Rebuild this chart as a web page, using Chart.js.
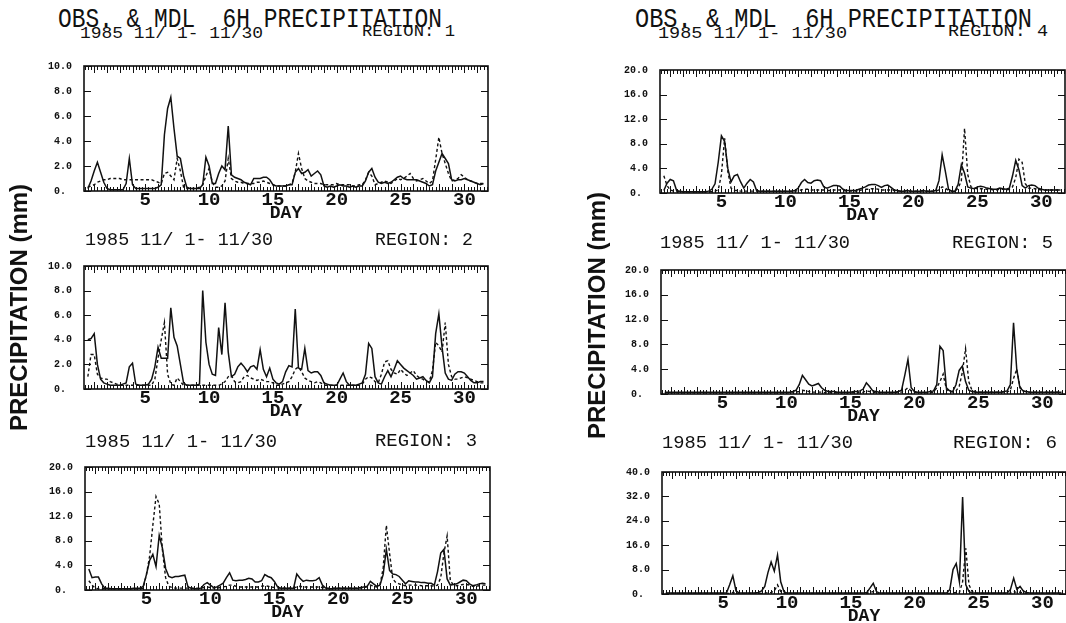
<!DOCTYPE html>
<html>
<head>
<meta charset="utf-8">
<script src="https://cdn.jsdelivr.net/npm/chart.js@4.4.0/dist/chart.umd.min.js"></script>
<style>
  html, body { margin: 0; padding: 0; background: #fff; }
  #page { position: relative; width: 1066px; height: 623px; overflow: hidden; background: #fff; }
  #page canvas { position: absolute; }
  .txt { position: absolute; white-space: pre; color: #111; }
</style>
</head>
<body>
<div id="page"></div>
<script>
// ---- 6-hourly precipitation (mm), 1985 Nov 1 - Nov 30 ----
// time axis: first value at day 0.5, one value every 6 hours
const firstDay = 0.5;
const stepDay = 0.25;
const dayTicks = [5, 10, 15, 20, 25, 30];
const ticksTen = [0, 2, 4, 6, 8, 10];
const ticksTwenty = [0, 4, 8, 12, 16, 20];
const ticksForty = [0, 8, 16, 24, 32, 40];

// Region 1
const obsR1 = [
  0.2, 0.8, 1.6, 2.3, 1.5, 0.7, 0.2, 0.1, 0.1, 0.1,
  0.1, 0.1, 0.6, 2.6, 0.5, 0.2, 0.2, 0.2, 0.2, 0.2,
  0.2, 0.2, 0.3, 0.5, 4.5, 6.6, 7.5, 5.0, 2.8, 2.6,
  1.2, 0.3, 0.2, 0.2, 0.2, 0.2, 0.5, 2.7, 2.0, 0.6,
  0.6, 1.4, 2.0, 1.7, 5.2, 1.3, 1.1, 1.0, 0.9, 0.7,
  0.6, 0.5, 1.0, 1.0, 1.0, 1.1, 1.1, 0.9, 0.5, 0.4,
  0.4, 0.4, 0.4, 0.5, 0.5, 1.5, 1.8, 1.4, 1.5, 1.7,
  1.2, 1.4, 1.6, 1.3, 0.4, 0.3, 0.4, 0.3, 0.4, 0.5,
  0.4, 0.4, 0.3, 0.4, 0.3, 0.4, 0.4, 0.8, 1.5, 1.8,
  1.1, 0.7, 0.6, 0.7, 0.6, 0.7, 0.9, 1.1, 1.2, 1.0,
  0.9, 0.9, 0.9, 0.9, 0.8, 0.7, 0.6, 0.4, 0.5, 1.6,
  2.3, 3.0, 2.6, 2.2, 0.9, 0.8, 0.9, 0.9, 1.0, 0.9,
  0.8, 0.7, 0.6, 0.5, 0.6
];
const mdlR1 = [
  0.3, 0.4, 0.5, 0.7, 0.8, 0.9, 0.9, 1.0, 1.0, 1.0,
  1.0, 0.9, 0.9, 0.9, 0.9, 0.9, 0.9, 0.9, 0.9, 0.9,
  0.9, 0.8, 0.7, 0.6, 1.4, 1.5, 1.2, 0.9, 2.6, 1.6,
  0.3, 0.2, 0.2, 0.2, 0.2, 0.3, 0.5, 1.2, 1.8, 0.7,
  0.3, 0.3, 0.4, 0.8, 2.6, 1.0, 0.8, 0.7, 0.7, 0.6,
  0.6, 0.6, 0.6, 0.7, 0.7, 0.8, 0.7, 0.6, 0.5, 0.4,
  0.4, 0.4, 0.4, 0.5, 0.6, 1.5, 3.0, 1.8, 1.0, 0.8,
  0.7, 0.6, 0.6, 0.6, 0.5, 0.5, 0.5, 0.5, 0.6, 0.5,
  0.5, 0.5, 0.5, 0.4, 0.4, 0.5, 0.5, 0.9, 1.5, 1.2,
  0.5, 0.6, 0.7, 0.8, 0.7, 0.6, 0.8, 1.0, 0.9, 1.0,
  1.2, 1.4, 1.0, 0.8, 0.9, 1.0, 0.8, 0.6, 0.8, 2.5,
  4.3, 3.0, 2.2, 1.4, 0.8, 0.9, 1.0, 1.3, 1.1, 0.9,
  0.8, 0.7, 0.6, 0.6, 0.6
];

// Region 2
const obsR2 = [
  4.0, 4.1, 4.5, 2.0, 0.8, 0.5, 0.4, 0.3, 0.3, 0.3,
  0.3, 0.4, 0.5, 1.8, 2.1, 0.4, 0.3, 0.3, 0.3, 0.4,
  0.8, 1.8, 3.4, 2.5, 2.5, 2.5, 6.6, 4.2, 3.5, 2.0,
  0.5, 0.3, 0.3, 0.3, 0.3, 0.4, 8.0, 3.8, 2.0, 1.2,
  1.1, 5.0, 2.8, 7.0, 3.0, 1.0, 1.2, 1.8, 2.1, 1.8,
  1.4, 1.8, 1.9, 1.6, 3.2, 1.6, 1.0, 1.7, 0.8, 0.5,
  0.4, 0.6, 1.4, 1.9, 1.8, 6.5, 1.7, 1.6, 3.3, 1.5,
  1.3, 1.4, 1.4, 1.1, 0.5, 0.4, 0.3, 0.3, 0.3, 0.8,
  1.3, 0.6, 0.3, 0.3, 0.3, 0.4, 0.5, 1.2, 3.7, 3.3,
  1.0, 0.5, 0.4, 1.0, 1.5, 1.0, 1.6, 2.3, 2.0, 1.7,
  1.5, 1.3, 1.1, 0.8, 0.9, 1.0, 0.7, 0.5, 1.0, 4.5,
  6.1, 3.4, 1.3, 0.8, 0.7, 1.2, 1.4, 1.4, 1.3, 1.0,
  0.7, 0.5, 0.5, 0.6, 0.6
];
const mdlR2 = [
  1.0, 2.8, 2.8, 1.2, 0.9, 0.8, 0.8, 0.6, 0.5, 0.4,
  0.3, 0.3, 0.3, 0.3, 0.3, 0.3, 0.3, 0.3, 0.3, 0.3,
  0.3, 0.8, 2.5, 4.0, 5.4, 1.2, 0.4, 0.3, 0.9, 0.6,
  0.3, 0.3, 0.3, 0.3, 0.3, 0.3, 0.3, 0.3, 0.3, 0.3,
  0.3, 0.3, 0.4, 0.6, 1.0, 1.1, 0.6, 0.5, 0.6, 1.0,
  1.1, 0.9, 0.8, 0.7, 0.8, 0.7, 0.6, 0.6, 0.5, 0.3,
  0.3, 0.4, 0.5, 0.6, 1.0, 1.6, 1.8, 1.4, 0.9, 0.7,
  0.6, 0.5, 0.6, 0.5, 0.3, 0.3, 0.3, 0.3, 0.3, 0.3,
  0.3, 0.3, 0.3, 0.3, 0.3, 0.3, 0.4, 0.8, 1.0, 0.9,
  0.6, 0.5, 1.2, 2.2, 2.3, 1.6, 1.3, 1.2, 1.6, 1.3,
  1.1, 1.3, 1.5, 1.1, 0.9, 0.8, 0.6, 0.6, 1.5, 3.8,
  3.5, 3.0, 5.4, 2.0, 1.0, 0.8, 0.8, 0.9, 1.0, 0.9,
  0.8, 0.7, 0.6, 0.5, 0.5
];

// Region 3
const obsR3 = [
  3.4, 2.0, 2.1, 2.1, 1.0, 0.3, 0.3, 0.2, 0.2, 0.2,
  0.2, 0.2, 0.2, 0.2, 0.3, 0.3, 0.3, 0.6, 2.5, 4.8,
  5.8, 3.8, 8.9, 6.8, 3.5, 2.2, 2.0, 2.2, 2.2, 2.3,
  2.4, 0.5, 0.3, 0.2, 0.2, 0.3, 0.9, 1.2, 0.8, 0.4,
  0.5, 0.8, 1.1, 2.0, 2.8, 1.6, 1.5, 1.6, 1.6, 1.7,
  1.9, 1.8, 1.3, 1.3, 1.5, 2.5, 2.2, 2.0, 1.4, 0.5,
  0.3, 0.3, 0.3, 0.3, 0.3, 2.6, 1.9, 1.4, 1.6, 1.5,
  1.5, 1.6, 2.0, 0.8, 0.3, 0.2, 0.2, 0.3, 0.3, 0.3,
  0.3, 0.3, 0.3, 0.3, 0.3, 0.4, 0.5, 0.6, 1.4, 1.0,
  0.6, 0.8, 2.5, 6.6, 3.2, 2.6, 2.5, 2.2, 1.6, 1.0,
  1.5, 1.4, 1.3, 1.3, 1.2, 1.2, 1.1, 1.1, 0.8, 3.0,
  6.0, 6.6, 1.8, 0.8, 0.9, 1.0, 1.3, 1.6, 1.5, 1.0,
  0.7, 0.8, 1.0, 1.1, 1.0
];
const mdlR3 = [
  1.5, 0.8, 0.3, 0.2, 0.2, 0.2, 0.2, 0.2, 0.2, 0.2,
  0.2, 0.2, 0.2, 0.2, 0.2, 0.2, 0.2, 0.3, 2.5, 5.5,
  10.5, 15.2, 14.0, 6.5, 2.0, 0.6, 0.4, 0.3, 0.3, 0.3,
  0.3, 0.3, 0.3, 0.3, 0.3, 0.3, 0.4, 0.5, 0.4, 0.3,
  0.3, 0.4, 0.5, 0.6, 0.8, 0.8, 0.6, 0.5, 0.5, 0.5,
  0.5, 0.5, 0.5, 0.5, 0.6, 0.7, 0.6, 0.5, 0.4, 0.3,
  0.3, 0.3, 0.3, 0.3, 0.3, 0.5, 0.6, 0.5, 0.5, 0.5,
  0.5, 0.5, 0.5, 0.4, 0.3, 0.3, 0.3, 0.3, 0.3, 0.3,
  0.3, 0.3, 0.3, 0.3, 0.3, 0.3, 0.4, 0.5, 0.8, 0.6,
  0.5, 0.8, 3.5, 10.5, 6.0, 1.8, 1.2, 1.0, 0.8, 0.7,
  0.8, 0.8, 0.8, 0.8, 0.7, 0.7, 0.7, 0.7, 0.6, 0.8,
  2.0, 6.0, 8.8, 1.5, 0.8, 0.7, 0.8, 0.9, 0.9, 0.8,
  0.6, 0.6, 0.7, 0.8, 0.8
];

// Region 4
const obsR4 = [
  0.4, 1.6, 2.2, 2.0, 0.4, 0.3, 0.2, 0.2, 0.2, 0.2,
  0.2, 0.2, 0.2, 0.2, 0.3, 0.6, 1.5, 5.0, 9.3, 8.4,
  4.0, 1.8, 2.8, 3.0, 1.8, 0.8, 1.6, 2.2, 1.8, 0.4,
  0.3, 0.3, 0.3, 0.3, 0.3, 0.3, 0.3, 0.3, 0.3, 0.3,
  0.3, 0.4, 0.8, 1.7, 2.2, 1.7, 1.6, 2.0, 2.1, 2.0,
  1.0, 0.8, 1.0, 1.2, 1.2, 1.1, 0.6, 0.4, 0.4, 0.4,
  0.4, 0.6, 0.8, 1.0, 1.3, 1.4, 1.4, 1.2, 0.9, 1.2,
  1.3, 0.9, 0.5, 0.4, 0.3, 0.3, 0.4, 0.3, 0.3, 0.3,
  0.3, 0.4, 0.3, 0.3, 0.3, 0.4, 2.0, 6.2, 3.5, 0.6,
  0.3, 0.3, 1.4, 4.6, 3.2, 1.0, 0.8, 0.7, 1.0, 1.1,
  1.0, 0.8, 0.7, 0.6, 0.6, 0.8, 0.7, 0.6, 0.8, 2.8,
  5.3, 3.8, 1.2, 0.8, 1.2, 1.3, 1.2, 0.8, 0.6, 0.5,
  0.5, 0.5, 0.5, 0.5, 0.5
];
const mdlR4 = [
  2.8, 1.2, 0.5, 0.3, 0.2, 0.2, 0.2, 0.2, 0.2, 0.2,
  0.2, 0.2, 0.2, 0.2, 0.2, 0.2, 0.3, 0.5, 3.0, 8.9,
  3.5, 0.8, 0.4, 0.4, 0.3, 0.3, 0.3, 0.3, 0.3, 0.3,
  0.3, 0.3, 0.3, 0.3, 0.3, 0.3, 0.3, 0.3, 0.3, 0.3,
  0.3, 0.3, 0.4, 0.5, 0.6, 0.6, 0.5, 0.5, 0.5, 0.5,
  0.5, 0.4, 0.4, 0.5, 0.5, 0.5, 0.4, 0.3, 0.3, 0.3,
  0.3, 0.4, 0.5, 0.6, 0.6, 0.7, 0.7, 0.6, 0.5, 0.5,
  0.5, 0.5, 0.4, 0.3, 0.3, 0.3, 0.3, 0.3, 0.3, 0.3,
  0.3, 0.3, 0.3, 0.3, 0.3, 0.3, 0.5, 1.0, 0.8, 0.4,
  0.3, 0.3, 0.8, 2.0, 10.5, 3.0, 1.0, 0.8, 0.7, 0.7,
  0.7, 0.6, 0.6, 0.5, 0.5, 0.6, 0.6, 0.5, 0.6, 1.0,
  2.5, 5.5, 5.0, 1.5, 0.8, 0.8, 0.7, 0.6, 0.5, 0.5,
  0.5, 0.5, 0.5, 0.5, 0.5
];

// Region 5
const obsR5 = [
  0.3, 0.3, 0.3, 0.3, 0.3, 0.3, 0.3, 0.3, 0.3, 0.3,
  0.3, 0.3, 0.3, 0.3, 0.3, 0.3, 0.3, 0.3, 0.3, 0.3,
  0.3, 0.3, 0.3, 0.3, 0.3, 0.3, 0.3, 0.3, 0.3, 0.3,
  0.3, 0.3, 0.3, 0.3, 0.3, 0.3, 0.3, 0.3, 0.3, 0.3,
  0.4, 0.6, 1.5, 3.0, 2.3, 1.6, 1.3, 1.5, 1.7, 1.0,
  0.6, 0.4, 0.4, 0.4, 0.3, 0.3, 0.3, 0.3, 0.3, 0.4,
  0.4, 0.5, 0.8, 1.8, 1.2, 0.5, 0.4, 0.3, 0.3, 0.3,
  0.3, 0.3, 0.3, 0.4, 0.6, 3.0, 5.6, 1.0, 0.4, 0.3,
  0.3, 0.3, 0.3, 0.4, 0.5, 1.5, 7.7, 7.0, 1.0, 0.5,
  0.4, 1.5, 3.8, 4.5, 2.0, 0.6, 0.4, 0.3, 0.3, 0.3,
  0.3, 0.3, 0.3, 0.3, 0.3, 0.3, 0.4, 0.5, 1.5, 11.5,
  4.0, 1.0, 0.5, 0.4, 0.3, 0.3, 0.3, 0.3, 0.3, 0.3,
  0.3, 0.3, 0.3, 0.3, 0.3
];
const mdlR5 = [
  0.2, 0.2, 0.2, 0.2, 0.2, 0.2, 0.2, 0.2, 0.2, 0.2,
  0.2, 0.2, 0.2, 0.2, 0.2, 0.2, 0.2, 0.2, 0.2, 0.2,
  0.2, 0.2, 0.2, 0.2, 0.2, 0.2, 0.2, 0.2, 0.2, 0.2,
  0.2, 0.2, 0.2, 0.2, 0.2, 0.2, 0.2, 0.2, 0.2, 0.2,
  0.3, 0.3, 0.4, 0.6, 0.5, 0.4, 0.3, 0.3, 0.3, 0.3,
  0.2, 0.2, 0.2, 0.2, 0.2, 0.2, 0.2, 0.2, 0.2, 0.2,
  0.2, 0.2, 0.3, 0.5, 0.4, 0.3, 0.2, 0.2, 0.2, 0.2,
  0.2, 0.2, 0.2, 0.3, 0.3, 0.6, 1.0, 0.5, 0.3, 0.2,
  0.2, 0.2, 0.2, 0.2, 0.3, 1.0, 2.0, 3.2, 0.8, 0.4,
  0.3, 0.5, 1.2, 3.5, 7.3, 2.0, 0.6, 0.4, 0.3, 0.3,
  0.3, 0.3, 0.3, 0.3, 0.3, 0.3, 0.3, 0.3, 0.6, 2.5,
  4.0, 1.2, 0.5, 0.3, 0.3, 0.3, 0.3, 0.3, 0.3, 0.3,
  0.3, 0.3, 0.3, 0.3, 0.3
];

// Region 6
const obsR6 = [
  0.3, 0.3, 0.3, 0.3, 0.3, 0.3, 0.3, 0.3, 0.3, 0.3,
  0.3, 0.3, 0.3, 0.3, 0.3, 0.3, 0.3, 0.3, 0.3, 0.3,
  3.0, 6.0, 1.0, 0.3, 0.3, 0.3, 0.3, 0.3, 0.3, 0.5,
  1.0, 2.5, 7.0, 10.5, 7.5, 12.8, 4.0, 0.8, 0.3, 0.3,
  0.3, 0.3, 0.3, 0.3, 0.3, 0.3, 0.3, 0.3, 0.3, 0.3,
  0.3, 0.3, 0.3, 0.3, 0.3, 0.3, 0.3, 0.3, 0.3, 0.3,
  0.3, 0.3, 0.3, 0.5, 2.0, 3.5, 0.8, 0.3, 0.3, 0.3,
  0.3, 0.3, 0.3, 0.3, 0.3, 0.3, 0.3, 0.3, 0.3, 0.3,
  0.3, 0.3, 0.3, 0.3, 0.3, 0.3, 0.3, 0.3, 0.3, 1.5,
  8.0, 10.0, 4.0, 31.8, 3.0, 0.8, 0.3, 0.3, 0.3, 0.3,
  0.3, 0.3, 0.3, 0.3, 0.3, 0.3, 0.3, 0.4, 1.5, 5.2,
  1.5, 2.5, 1.0, 0.5, 0.3, 0.3, 0.3, 0.3, 0.3, 0.3,
  0.3, 0.3, 0.3, 0.3, 0.3
];
const mdlR6 = [
  0.2, 0.2, 0.2, 0.2, 0.2, 0.2, 0.2, 0.2, 0.2, 0.2,
  0.2, 0.2, 0.2, 0.2, 0.2, 0.2, 0.2, 0.2, 0.2, 0.2,
  0.2, 0.5, 0.2, 0.2, 0.2, 0.2, 0.2, 0.2, 0.2, 0.2,
  0.2, 0.3, 0.4, 0.5, 1.0, 3.0, 0.8, 0.3, 0.2, 0.2,
  0.2, 0.2, 0.2, 0.2, 0.2, 0.2, 0.2, 0.2, 0.2, 0.2,
  0.2, 0.2, 0.2, 0.2, 0.2, 0.2, 0.2, 0.2, 0.2, 0.2,
  0.2, 0.2, 0.2, 0.2, 0.5, 0.8, 0.3, 0.2, 0.2, 0.2,
  0.2, 0.2, 0.2, 0.2, 0.2, 0.2, 0.2, 0.2, 0.2, 0.2,
  0.2, 0.2, 0.2, 0.2, 0.2, 0.2, 0.2, 0.2, 0.2, 0.2,
  0.3, 0.5, 0.5, 4.0, 15.0, 3.0, 0.8, 0.3, 0.2, 0.2,
  0.2, 0.2, 0.2, 0.2, 0.2, 0.2, 0.2, 0.2, 0.3, 0.8,
  0.5, 0.6, 0.3, 0.2, 0.2, 0.2, 0.2, 0.2, 0.2, 0.2,
  0.2, 0.2, 0.2, 0.2, 0.2
];

// ---- page layout ----
const MONO = '"Liberation Mono", "DejaVu Sans Mono", monospace';
const SANS = '"Liberation Sans", Arial, sans-serif';
const INK = '#111';
const page = document.getElementById('page');

// plot boxes: [left, top, width, height] of each framed area
const panels = [
  { box: [84, 56, 404, 135],  yMax: 10, yTicks: ticksTen,    obs: obsR1, mdl: mdlR1 },
  { box: [84, 256, 404, 133], yMax: 10, yTicks: ticksTen,    obs: obsR2, mdl: mdlR2 },
  { box: [85, 457, 405, 133], yMax: 20, yTicks: ticksTwenty, obs: obsR3, mdl: mdlR3 },
  { box: [660, 60, 405, 133], yMax: 20, yTicks: ticksTwenty, obs: obsR4, mdl: mdlR4 },
  { box: [661, 260, 405, 134], yMax: 20, yTicks: ticksTwenty, obs: obsR5, mdl: mdlR5 },
  { box: [662, 462, 404, 132], yMax: 40, yTicks: ticksForty,  obs: obsR6, mdl: mdlR6 }
];

const toPoints = vals => vals.map((v, i) => ({ x: firstDay + i * stepDay, y: v }));

// frame, inward value ticks on both sides, 6-hour ruler on top and bottom
const frameAndRuler = {
  id: 'frameAndRuler',
  afterDraw(chart) {
    const { ctx, chartArea: a, scales: { x, y } } = chart;
    ctx.save();
    ctx.strokeStyle = INK;
    ctx.lineWidth = 1;
    ctx.beginPath();
    const start = Math.ceil(x.min / stepDay) * stepDay;
    for (let d = start; d <= x.max + 1e-9; d += stepDay) {
      const px = Math.round(x.getPixelForValue(d)) + 0.5;
      const whole = Math.abs(d - Math.round(d)) < 1e-6;
      const len = whole ? 7 : 4;
      ctx.moveTo(px, a.top); ctx.lineTo(px, a.top + len);
      ctx.moveTo(px, a.bottom); ctx.lineTo(px, a.bottom - len);
    }
    y.ticks.forEach(t => {
      const py = Math.round(y.getPixelForValue(t.value)) + 0.5;
      ctx.moveTo(a.left, py); ctx.lineTo(a.left + 7, py);
      ctx.moveTo(a.right, py); ctx.lineTo(a.right - 7, py);
    });
    ctx.stroke();
    ctx.lineWidth = 1.6;
    ctx.strokeRect(a.left, a.top, a.right - a.left, a.bottom - a.top);
    ctx.restore();
  }
};

const PAD_L = 56, PAD_T = 8, PAD_R = 8, PAD_B = 31;

panels.forEach(p => {
  const [bx, by, bw, bh] = p.box;
  const cv = document.createElement('canvas');
  const W = bw + PAD_L + PAD_R, H = bh + PAD_T + PAD_B;
  cv.width = W; cv.height = H;
  cv.style.width = W + 'px'; cv.style.height = H + 'px';
  cv.style.left = (bx - PAD_L) + 'px';
  cv.style.top = (by - PAD_T) + 'px';
  page.appendChild(cv);

  new Chart(cv, {
    type: 'line',
    data: {
      datasets: [
        { label: 'OBS', data: toPoints(p.obs), borderColor: INK, borderWidth: 1.5,
          pointRadius: 0, tension: 0, fill: false },
        { label: 'MDL', data: toPoints(p.mdl), borderColor: INK, borderWidth: 1.4,
          borderDash: [3, 2.5], pointRadius: 0, tension: 0, fill: false }
      ]
    },
    options: {
      responsive: false,
      animation: false,
      devicePixelRatio: 1,
      layout: { padding: { left: 0, top: PAD_T, right: PAD_R, bottom: 0 } },
      plugins: { legend: { display: false }, tooltip: { enabled: false }, title: { display: false } },
      scales: {
        x: {
          type: 'linear', min: 0.2, max: 31.85,
          afterBuildTicks: s => { s.ticks = dayTicks.map(v => ({ value: v })); },
          afterFit: s => { s.height = PAD_B; },
          grid: { display: false, drawTicks: false },
          border: { display: false },
          ticks: { color: INK, padding: 0, maxRotation: 0, autoSkip: false,
                   font: { family: MONO, size: 19, weight: 'bold', lineHeight: 1 },
                   callback: v => String(v) },
          title: { display: true, text: 'DAY', color: INK, padding: { top: 0, bottom: 0 },
                   font: { family: MONO, size: 18, weight: 'bold', lineHeight: 1 } }
        },
        y: {
          type: 'linear', min: 0, max: p.yMax,
          afterBuildTicks: s => { s.ticks = p.yTicks.map(v => ({ value: v })); },
          afterFit: s => { s.width = PAD_L; },
          grid: { display: false, drawTicks: false },
          border: { display: false },
          ticks: { color: INK, padding: 12, autoSkip: false,
                   font: { family: MONO, size: 10, weight: 'bold', lineHeight: 1.2 },
                   callback: v => (v === 0 ? '0. ' : v.toFixed(1)) }
        }
      }
    },
    plugins: [frameAndRuler]
  });
});

// ---- titles and panel headers ----
const mctx = document.createElement('canvas').getContext('2d');
function addText(str, x0, cy, width, size, family, weight, sy) {
  const d = document.createElement('div');
  d.className = 'txt';
  d.textContent = str;
  const font = `${weight} ${size}px ${family}`;
  d.style.font = font;
  d.style.lineHeight = size + 'px';
  mctx.font = font;
  const sx = width / mctx.measureText(str).width;
  d.style.left = x0 + 'px';
  d.style.top = (cy - size / 2) + 'px';
  d.style.transformOrigin = '0 50%';
  d.style.transform = `scale(${sx}, ${sy})`;
  page.appendChild(d);
}
const headline = 'OBS. & MDL  6H PRECIPITATION';
const period = '1985 11/ 1- 11/30';
addText(headline, 58, 20.5, 384, 23, MONO, 400, 1.18);
addText(period, 80, 33.5, 183, 17, MONO, 400, 1.0);
addText('REGION: 1', 362, 31.5, 93, 17, MONO, 400, 1.0);
addText(headline, 635, 20.5, 397, 23, MONO, 400, 1.18);
addText(period, 658, 33.5, 189, 17, MONO, 400, 1.0);
addText('REGION: 4', 948, 31, 100, 17, MONO, 400, 1.0);
addText(period, 85, 240, 188, 18, MONO, 400, 1.0);
addText('REGION: 2', 375, 239.7, 98, 18, MONO, 400, 1.0);
addText(period, 85, 441.7, 192, 18, MONO, 400, 1.0);
addText('REGION: 3', 375, 440.5, 102, 18, MONO, 400, 1.0);
addText(period, 660, 243.3, 190, 18, MONO, 400, 1.0);
addText('REGION: 5', 952, 243, 101, 18, MONO, 400, 1.0);
addText(period, 662, 443.3, 191, 18, MONO, 400, 1.0);
addText('REGION: 6', 953, 443, 104, 18, MONO, 400, 1.0);

// vertical axis titles, reading bottom to top
function addVertical(str, cx, bottomY, size) {
  const d = document.createElement('div');
  d.className = 'txt';
  d.textContent = str;
  d.style.font = `bold ${size}px ${SANS}`;
  d.style.lineHeight = size + 'px';
  d.style.left = (cx - size / 2) + 'px';
  d.style.top = bottomY + 'px';
  d.style.transformOrigin = '0 0';
  d.style.transform = 'rotate(-90deg)';
  page.appendChild(d);
}
addVertical('PRECIPITATION (mm)', 19, 431, 24);
addVertical('PRECIPITATION (mm)', 597, 439, 24);
</script>
</body>
</html>
